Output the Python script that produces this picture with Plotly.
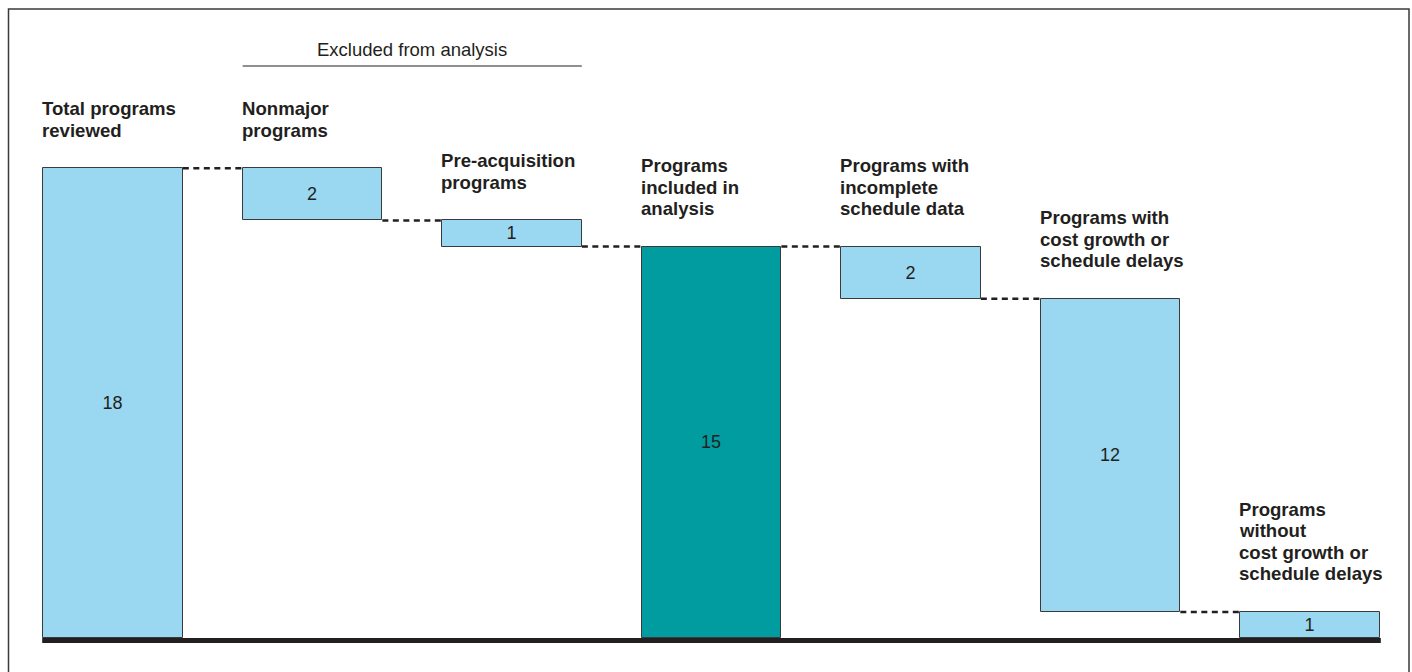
import plotly.graph_objects as go

# Program counts at each step of the review funnel
categories = [
    "Total programs<br>reviewed",
    "Nonmajor<br>programs",
    "Pre-acquisition<br>programs",
    "Programs<br>included in<br>analysis",
    "Programs with<br>incomplete<br>schedule data",
    "Programs with<br>cost growth or<br>schedule delays",
    "Programs<br>without<br>cost growth or<br>schedule delays",
]
counts = [18, 2, 1, 15, 2, 12, 1]
# "total" bars stand on the baseline; "drop" bars hang from the running level
kinds = ["total", "drop", "drop", "total", "drop", "drop", "total"]
bar_colors = ["#99d8f0", "#99d8f0", "#99d8f0", "#009ca0", "#99d8f0", "#99d8f0", "#99d8f0"]
group_title = "Excluded from analysis"
group_span = [1, 2]

# Running level -> bar bases and the level reached after each bar
bases, levels = [], []
level = 0
for c, k in zip(counts, kinds):
    if k == "total":
        bases.append(0)
        level = c
    else:
        level -= c
        bases.append(level)
    levels.append(level)
tops = [b + c for b, c in zip(bases, counts)]

x = list(range(len(counts)))
half = 0.35
FONT = "Liberation Sans, Arial, Helvetica, sans-serif"
INK = "#231f20"

fig = go.Figure()
fig.add_trace(go.Bar(
    x=x, y=counts, base=bases, width=2 * half,
    marker=dict(color=bar_colors, line=dict(color="#3a3a3a", width=1)),
    text=[str(c) for c in counts], textposition="inside",
    insidetextanchor="middle", textangle=0, constraintext="none",
    textfont=dict(family=FONT, size=18, color=INK),
    hoverinfo="skip", showlegend=False,
))

# Dashed connectors between consecutive bars
for i in range(len(counts) - 1):
    fig.add_trace(go.Scatter(
        x=[i + half, i + 1 - half], y=[levels[i], levels[i]],
        mode="lines", line=dict(color=INK, width=2.5, dash="6px,4.5px"),
        hoverinfo="skip", showlegend=False,
    ))

shapes = []
# Heavy baseline under the bars
shapes.append(dict(type="rect", xref="x", yref="y", x0=-half - 0.005, x1=len(counts) - 1 + half + 0.005,
                   ysizemode="pixel", yanchor=0, y0=0, y1=-5,
                   fillcolor=INK, line=dict(width=0), layer="above"))
# Bracket line under the group title
shapes.append(dict(type="line", xref="x", yref="paper",
                   x0=group_span[0] - half, x1=group_span[1] + half, y0=1 - 66 / 672, y1=1 - 66 / 672,
                   line=dict(color=INK, width=1.2)))
# Outer frame
shapes.append(dict(type="rect", xref="paper", yref="paper",
                   x0=8.5 / 1412, x1=1409 / 1412, y0=-0.05, y1=1 - 9 / 672,
                   line=dict(color="#3a3a3a", width=1.5), fillcolor="rgba(0,0,0,0)"))

annotations = []
annotations.append(dict(text=group_title, xref="x", yref="paper",
                        x=(group_span[0] + group_span[1]) / 2, y=1 - 50 / 672,
                        xanchor="center", yanchor="middle", showarrow=False,
                        font=dict(family=FONT, size=18.5, color=INK)))

# Category labels stacked line by line above each bar
pitch = 21.5
for i, label in enumerate(categories):
    lines = label.split("<br>")
    n = len(lines)
    for k, line in enumerate(lines):
        annotations.append(dict(
            text="<b>%s</b>" % line, x=i - half, y=tops[i], xref="x", yref="y",
            xanchor="left", yanchor="middle", xshift=-3,
            yshift=38 + (n - 1 - k) * pitch, showarrow=False,
            font=dict(family=FONT, size=18.6, color=INK),
        ))

W, H = 1412, 672
px_per_cat = 199.5
px_per_unit = 26.1
x0 = -113 / px_per_cat
y_top = 638 / px_per_unit
y_bot = -(H - 638) / px_per_unit

fig.update_layout(
    width=W, height=H,
    margin=dict(l=0, r=0, t=0, b=0),
    paper_bgcolor="white", plot_bgcolor="white",
    xaxis=dict(range=[x0, x0 + W / px_per_cat], visible=False, fixedrange=True),
    yaxis=dict(range=[y_bot, y_top], visible=False, fixedrange=True),
    shapes=shapes, annotations=annotations,
    bargap=0,
)

fig.write_html("out.html")
